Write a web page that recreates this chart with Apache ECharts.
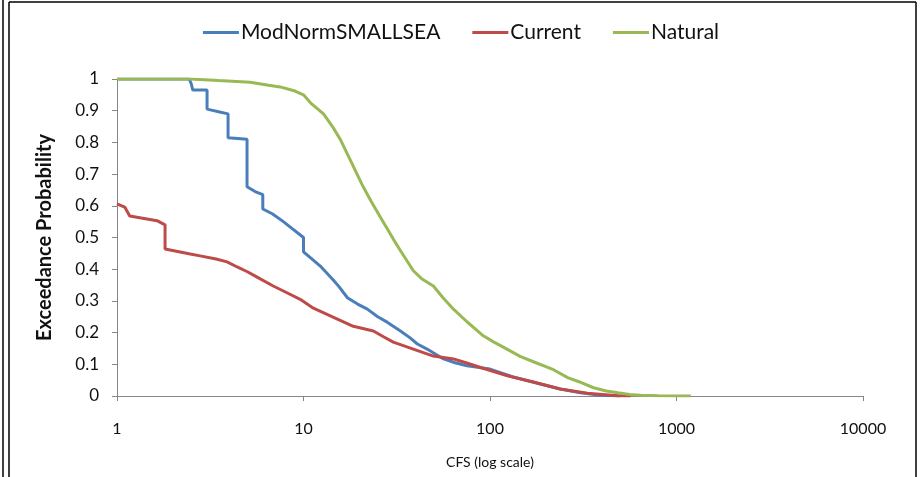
<!DOCTYPE html>
<html>
<head>
<meta charset="utf-8">
<script src="https://cdn.jsdelivr.net/npm/echarts@6/dist/echarts.min.js"></script>
<style>html,body{margin:0;padding:0;background:#fff;}#c{width:922px;height:477px;}</style>
</head>
<body>
<div id="c"></div>
<script>
// ---- Data ----
const seriesNames = ["ModNormSMALLSEA", "Current", "Natural"];

const modX = [1, 2.44, 2.5, 2.55, 3.04, 3.04, 3.6, 3.94, 3.94, 4.98, 4.98, 5.5, 6.05, 6.05, 6.8, 7.8, 8.2, 10, 10, 11.2, 12.3, 14.4, 15.5, 17.2, 19.5, 22, 25, 28.1, 33.1, 37, 40.8, 46, 56.3, 65, 75.4, 100, 133, 186, 238, 306, 392, 500];
const modY = [1, 1, 0.985, 0.965, 0.965, 0.905, 0.895, 0.89, 0.815, 0.81, 0.66, 0.645, 0.635, 0.59, 0.575, 0.55, 0.54, 0.5, 0.455, 0.43, 0.41, 0.367, 0.345, 0.31, 0.29, 0.274, 0.25, 0.233, 0.205, 0.185, 0.164, 0.148, 0.117, 0.105, 0.095, 0.085, 0.06, 0.038, 0.022, 0.01, 0.002, 0];

const curX = [1, 1.1, 1.17, 1.64, 1.81, 1.81, 2.47, 2.79, 3.4, 3.89, 4.41, 5.0, 5.64, 6.88, 8.2, 9.6, 11.3, 14.4, 18.5, 23.7, 27, 30.3, 38.8, 49.7, 63.7, 75, 89, 124, 171, 238, 333, 484, 568];
const curY = [0.606, 0.596, 0.568, 0.553, 0.54, 0.464, 0.448, 0.442, 0.432, 0.423, 0.407, 0.392, 0.375, 0.347, 0.325, 0.305, 0.277, 0.249, 0.22, 0.205, 0.186, 0.17, 0.148, 0.126, 0.117, 0.104, 0.09, 0.064, 0.044, 0.022, 0.009, 0.001, 0];

const natX = [1, 2.47, 3.5, 5.18, 6.5, 7.5, 9, 10, 10.9, 12.8, 14.3, 15.8, 17.8, 20.9, 23, 25.8, 30.3, 33, 36, 38.8, 43, 49.7, 56, 63.7, 75, 92, 105, 124, 145, 171, 219, 261, 300, 359, 420, 484, 560, 643, 800, 1194];
const natY = [1, 1, 0.995, 0.99, 0.98, 0.975, 0.962, 0.95, 0.925, 0.89, 0.85, 0.808, 0.745, 0.66, 0.615, 0.565, 0.495, 0.46, 0.425, 0.395, 0.37, 0.347, 0.31, 0.274, 0.235, 0.19, 0.17, 0.147, 0.125, 0.108, 0.083, 0.058, 0.045, 0.026, 0.016, 0.01, 0.005, 0.002, 0.001, 0];

const xTicks = [1, 10, 100, 1000, 10000];
const yTicks = [0, 0.1, 0.2, 0.3, 0.4, 0.5, 0.6, 0.7, 0.8, 0.9, 1];

const xTitle = "CFS (log scale)";
const yTitle = "Exceedance Probability";

// ---- Chart ----
function pairs(xs, ys) { return xs.map((x, i) => [x, ys[i]]); }
const colors = ["#4A7EBB", "#BE4B48", "#98B954"];
const FONT = "Lato";

const chart = echarts.init(document.getElementById('c'), null, {renderer: 'canvas'});
const data = [pairs(modX, modY), pairs(curX, curY), pairs(natX, natY)];

chart.setOption({
  animation: false,
  backgroundColor: '#fff',
  color: colors,
  textStyle: {fontFamily: FONT},
  legend: {
    top: 17,
    left: 'center',
    icon: 'rect',
    itemWidth: 36,
    itemHeight: 3,
    itemGap: 32,
    textStyle: {fontFamily: FONT, fontSize: 21, color: '#111', padding: [0, 0, 0, -3]},
    data: seriesNames
  },
  grid: {left: 117, right: 59, top: 79, bottom: 81, containLabel: false},
  xAxis: {
    type: 'log',
    logBase: 10,
    min: xTicks[0],
    max: xTicks[xTicks.length - 1],
    name: xTitle,
    nameLocation: 'middle',
    nameGap: 59,
    nameTextStyle: {fontFamily: FONT, fontSize: 14, color: '#111'},
    axisLine: {lineStyle: {color: '#868686', width: 1}},
    axisTick: {show: true, length: 5, inside: false, lineStyle: {color: '#868686'}},
    minorTick: {show: false},
    splitLine: {show: false},
    axisLabel: {fontFamily: FONT, fontSize: 16, color: '#111', margin: 25,
      formatter: v => String(Math.round(v))}
  },
  yAxis: {
    type: 'value',
    min: yTicks[0],
    max: yTicks[yTicks.length - 1],
    interval: 0.1,
    name: yTitle,
    nameLocation: 'middle',
    nameGap: 62,
    nameRotate: 90,
    nameTextStyle: {fontFamily: FONT, fontSize: 20, fontWeight: 'bold', color: '#111'},
    axisLine: {show: true, lineStyle: {color: '#868686', width: 1}},
    axisTick: {show: true, length: 5, inside: false, lineStyle: {color: '#868686'}},
    splitLine: {show: false},
    axisLabel: {fontFamily: FONT, fontSize: 17, color: '#111', margin: 18,
      formatter: v => String(Math.round(v * 10) / 10)}
  },
  graphic: [
    {type: 'line', shape: {x1: 3, y1: 0, x2: 3, y2: 477}, style: {stroke: '#000', lineWidth: 1.5}},
    {type: 'line', shape: {x1: 9, y1: 2, x2: 9, y2: 477}, style: {stroke: '#000', lineWidth: 1.5}},
    {type: 'line', shape: {x1: 9, y1: 2, x2: 916, y2: 2}, style: {stroke: '#000', lineWidth: 1.5}},
    {type: 'line', shape: {x1: 916, y1: 2, x2: 916, y2: 477}, style: {stroke: '#000', lineWidth: 1.5}}
  ],
  series: seriesNames.map((n, i) => ({
    name: n,
    type: 'line',
    data: data[i],
    showSymbol: false,
    symbol: 'none',
    lineStyle: {width: 3, color: colors[i]}
  }))
});
</script>
</body>
</html>
